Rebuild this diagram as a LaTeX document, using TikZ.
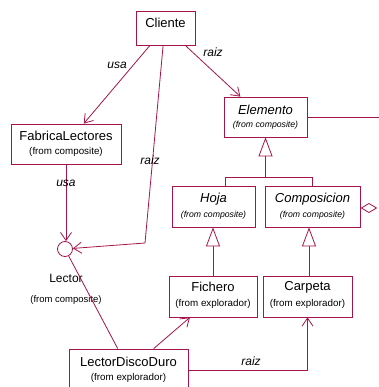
\documentclass[tikz,border=0pt]{standalone}
\usepackage{fontspec}
\setmainfont{Liberation Sans}
\usetikzlibrary{arrows.meta,calc}
\definecolor{lc}{RGB}{165,20,75}
\begin{document}
\begin{tikzpicture}[x=1pt,y=-1pt,
 box/.style={draw=lc, line width=0.8pt, inner sep=0pt, fill=white},
 nm/.style={inner sep=0pt, font=\fontsize{13}{15}\selectfont},
 nmi/.style={inner sep=0pt, font=\fontsize{13}{15}\selectfont\itshape},
 sb/.style={inner sep=0pt, font=\fontsize{9.8}{11}\selectfont},
 sbi/.style={inner sep=0pt, font=\fontsize{8.7}{10}\selectfont\itshape},
 lbl/.style={inner sep=0pt, font=\fontsize{12}{14}\selectfont\itshape},
 ln/.style={draw=lc, line width=0.8pt},
 dep/.style={ln, -{Straight Barb[length=8pt,width=11pt]}},
 gen/.style={ln, -{Triangle[open,length=19pt,width=14pt,fill=white]}},
]
\useasboundingbox (0,0) rectangle (378,387);
% boxes
\node[box, minimum width=59pt, minimum height=34pt] (cli) at (165.5,28) {};
\node[nm] (clit) at (165.5,23) {Cliente};

\node[box, minimum width=110pt, minimum height=40pt] (fab) at (66,144) {};
\node[nm] (fabt) at (66,136) {FabricaLectores};
\node[sb] (fabs) at (66,152) {(from composite)};

\node[box, minimum width=83pt, minimum height=40pt] (elem) at (265.5,117) {};
\node[nmi] (elemt) at (265.5,110) {Elemento};
\node[sbi] (elems) at (265.5,125) {(from composite)};

\node[box, minimum width=83pt, minimum height=41pt] (hoja) at (213.5,206.5) {};
\node[nmi] (hojat) at (213.5,199) {Hoja};
\node[sbi] (hojas) at (213.5,215) {(from composite)};

\node[box, minimum width=95pt, minimum height=41pt] (comp) at (312.5,206.5) {};
\node[nmi] (compt) at (312.5,199) {Composicion};
\node[sbi] (comps) at (312.5,215) {(from composite)};

\node[box, minimum width=88pt, minimum height=41pt] (fich) at (213,296.5) {};
\node[nm] (ficht) at (213,287) {Fichero};
\node[sb] (fichs) at (213,304) {(from explorador)};

\node[box, minimum width=89pt, minimum height=41pt] (carp) at (307.5,296.5) {};
\node[nm] (carpt) at (307.5,287) {Carpeta};
\node[sb] (carps) at (307.5,304) {(from explorador)};

\node[box, minimum width=119pt, minimum height=43pt] (ldd) at (128.5,370.5) {};
\node[nm] (lddt) at (128.5,362) {LectorDiscoDuro};
\node[sb] (ldds) at (128.5,378) {(from explorador)};

% interface
\node[draw=lc, line width=0.8pt, circle, minimum size=15pt, inner sep=0pt] (lec) at (65,249) {};
\node[inner sep=0pt, font=\fontsize{12}{14}\selectfont] (lect) at (66,278) {Lector};
\node[inner sep=0pt, font=\fontsize{9.5}{11}\selectfont] (lecs) at (66,300) {(from composite)};

% connectors
\draw[dep] ($(cli.south west)!0.24!(cli.south east)$) -- ($(fab.north west)!0.66!(fab.north east)$);
\draw[dep] ($(cli.south west)!0.83!(cli.south east)$) -- ($(elem.north west)!0.2!(elem.north east)$);
\coordinate (bend) at (145,243);
\draw[dep] ($(cli.south west)!0.46!(cli.south east)$) -- (bend) -- (lec);
\draw[dep] (fab.south) -- (fab.south |- lec.north);
\draw[ln] (lec) -- ($(ldd.north west)!0.41!(ldd.north east)$);
\draw[dep] ($(ldd.north west)!0.71!(ldd.north east)$) -- ($(fich.south west)!0.24!(fich.south east)$);
\draw[dep] (ldd.east) -| (carp.south);

\coordinate (j) at ($(elem.south)+(0,40)$);
\draw[ln] ($(hoja.north west)!0.64!(hoja.north east)$) |- (j) -| (comp.north);
\draw[gen] (j) -- (elem.south);
\draw[gen] (fich.north) -- (fich.north |- hoja.south);
\coordinate (cpt) at ($(carp.north)+(1.5,0)$);
\draw[gen] (cpt) -- (cpt |- comp.south);

\coordinate (er) at (382,117);
\draw[ln] (elem.east) -- (er);
\draw[ln, fill=white] ($(comp.east)+(1,1.5)$) -- ++(7.5,-4.5) -- ++(7.5,4.5) -- ++(-7.5,4.5) -- cycle;

% labels
\node[lbl] (l1) at (117,65) {usa};
\node[lbl] (l2) at (213,52) {raiz};
\node[lbl] (l3) at (150,160) {raiz};
\node[lbl] (l4) at (66,183) {usa};
\node[lbl] (l5) at (251,361) {raiz};
\end{tikzpicture}
\end{document}
